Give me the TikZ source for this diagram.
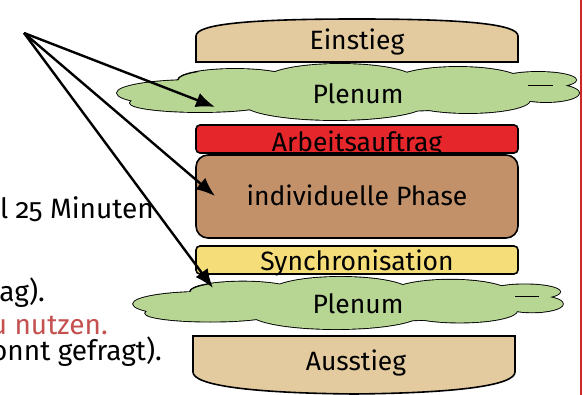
\documentclass[tikz,border=0pt]{standalone}
\usepackage{fontspec}
\setmainfont{Fira Sans}[Numbers=OldStyle]
\usetikzlibrary{arrows.meta}

\definecolor{bun}{RGB}{227,203,159}
\definecolor{leaf}{RGB}{183,213,147}
\definecolor{tomato}{RGB}{229,38,42}
\definecolor{patty}{RGB}{194,145,106}
\definecolor{cheese}{RGB}{245,221,122}
\definecolor{noteRed}{RGB}{196,80,80}
\definecolor{ruleRed}{RGB}{205,40,40}

\tikzset{
  layerline/.style={draw=black, line width=1.6pt},
  slice/.style={layerline, rounded corners=4pt},
  lbl/.style={font=\fontsize{26.5}{30}\selectfont, inner sep=0pt, anchor=base},
  note/.style={font=\fontsize{28}{32}\selectfont, inner sep=0pt, anchor=base east},
  pointer/.style={line width=2.4pt, -{Latex[length=19pt,width=15pt]}},
  puff/.style={line width=0.9pt},
}

% one leafy cloud, drawn around the local origin
\newcommand\leafcloud{%
  \def\lobes{%
    (-153,1) ellipse [x radius=78, y radius=13]
    (-148,11) ellipse [x radius=70, y radius=9]
    (-113,-12) ellipse [x radius=57, y radius=11]
    (-8,-12) ellipse [x radius=75, y radius=16]
    (110,-10) ellipse [x radius=65, y radius=15]
    (190,-12) ellipse [x radius=38, y radius=8]
    (198,1) ellipse [x radius=33, y radius=9]
    (-13,11) ellipse [x radius=92, y radius=17]
    (120,8) ellipse [x radius=62, y radius=13]
    (0,0) ellipse [x radius=190, y radius=20]}%
  \draw[line width=1.8pt, fill=leaf] \lobes;
  \fill[leaf] \lobes;
  % inner puff edges
  \draw[puff] (-170,-12) arc[start angle=180, end angle=230, x radius=57, y radius=11];
  \draw[puff] (180,-7) -- (205,-7);
}

\begin{document}
\begin{tikzpicture}[x=1pt, y=-1pt]
  \useasboundingbox (0,0) rectangle (583,395);
  \clip (0,0) rectangle (583,395);

  % fragments of the running text on the left
  \node[note] (noteA) at (154,219) {l 25 Minuten};
  \node[note] (noteB) at (45,301) {ag).};
  \node[note, text=noteRed] (noteC) at (108,334) {u nutzen.};
  \node[note] (noteD) at (162,360) {onnt gefragt).};

  % top bun
  \draw[layerline, fill=bun] (196,62) -- (196,36)
    .. controls (196,24) and (250,19) .. (357,19)
    .. controls (464,19) and (518,24) .. (518,36) -- (518,62) -- cycle;
  \node[lbl] (einstieg) at (357,50) {Einstieg};

  % first plenum
  \begin{scope}[shift={(348,92)}]
    \leafcloud
  \end{scope}
  \node[lbl] (plenumA) at (358,104) {Plenum};

  % task strip
  \draw[slice, fill=tomato] (196,125) rectangle (518,153);
  \node[lbl] (auftrag) at (357,152) {Arbeitsauftrag};

  % individual phase
  \draw[layerline, fill=patty, rounded corners=12pt] (196,155) rectangle (518,238);
  \node[lbl] (phase) at (357,206) {individuelle Phase};

  % synchronisation strip
  \draw[slice, fill=cheese] (196,246) rectangle (518,274);
  \node[lbl] (sync) at (357,270) {Synchronisation};

  % second plenum
  \begin{scope}[shift={(348,303)}, xscale=0.93, yscale=0.93]
    \leafcloud
  \end{scope}
  \node[lbl] (plenumB) at (358,313) {Plenum};

  % bottom bun
  \draw[layerline, fill=bun] (193,336) -- (515,336) -- (515,372)
    .. controls (515,385) and (460,393) .. (354,394)
    .. controls (248,393) and (193,385) .. (193,372) -- cycle;
  \node[lbl] (ausstieg) at (356,370) {Ausstieg};

  % pointers
  \coordinate (src) at (24,33);
  \coordinate (tipA) at (215,107);
  \coordinate (tipB) at (215,196);
  \coordinate (tipC) at (213,288);
  \draw[pointer] (src) -- (tipA);
  \draw[pointer] (src) -- (tipB);
  \draw[pointer] (src) -- (tipC);

  % margin rule
  \draw[ruleRed, line width=1.5pt] (581,0) -- (581,395);
\end{tikzpicture}
\end{document}
